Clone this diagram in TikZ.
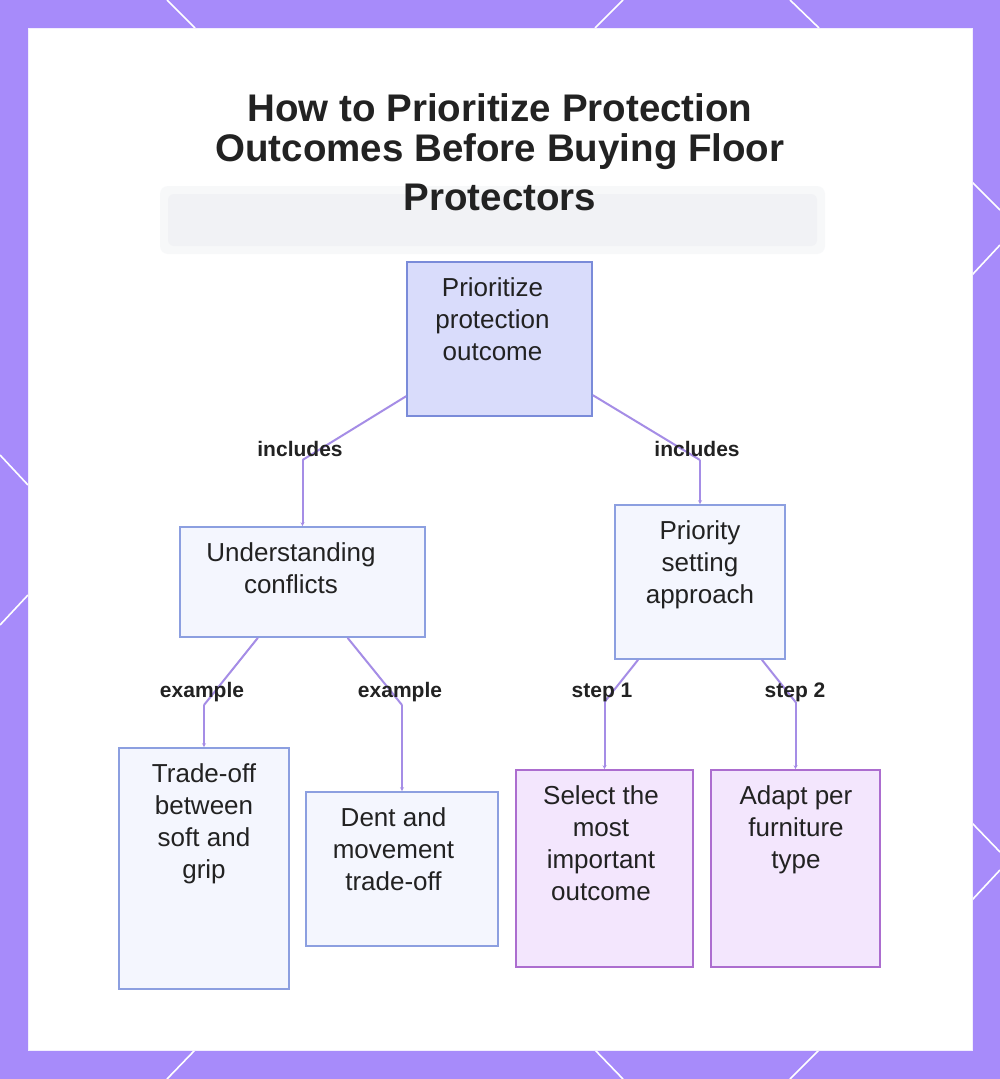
\documentclass[tikz,border=0pt]{standalone}
\usepackage{fontspec}
\setmainfont{Liberation Sans}
\usetikzlibrary{arrows.meta}
\definecolor{framepurple}{HTML}{A78BFA}
\definecolor{rootfill}{HTML}{D9DCFB}
\definecolor{rootdraw}{HTML}{7A8BD9}
\definecolor{bluefill}{HTML}{F4F6FE}
\definecolor{bluedraw}{HTML}{8C9FE0}
\definecolor{purpfill}{HTML}{F3E6FD}
\definecolor{purpdraw}{HTML}{AC6DCF}
\definecolor{connc}{HTML}{A58DE6}
\definecolor{txt}{HTML}{222222}
\definecolor{fadebar}{HTML}{F1F2F5}
\newcommand{\nodetxt}[1]{\parbox[t]{240pt}{\centering\fontsize{26}{32}\selectfont #1}}
\tikzset{
  boxbase/.style={rectangle, inner sep=0pt, line width=1.6pt},
  rootbox/.style={boxbase, fill=rootfill, draw=rootdraw},
  bluebox/.style={boxbase, fill=bluefill, draw=bluedraw},
  purpbox/.style={boxbase, fill=purpfill, draw=purpdraw},
  boxtext/.style={anchor=base, inner sep=0pt, text=txt},
  edgelabel/.style={anchor=center, inner sep=0pt, text=txt, font=\fontsize{21}{24}\selectfont\bfseries},
  titleline/.style={anchor=base, inner sep=0pt, text=txt, font=\fontsize{38.5}{42}\selectfont\bfseries},
  conn/.style={draw=connc, line width=2pt},
  connarrow/.style={conn, -{Stealth[length=4pt,width=4pt]}},
  frameline/.style={draw=white, line width=1.6pt}
}
\begin{document}
\begin{tikzpicture}[x=1pt,y=-1pt]
\useasboundingbox (0,0) rectangle (1000,1079);
% frame
\fill[framepurple] (0,0) rectangle (1000,1079);
\draw[frameline] (167,0) -- (195,28);
\draw[frameline] (623,0) -- (595,28);
\draw[frameline] (790,0) -- (819,28);
\draw[frameline] (167,1079) -- (195,1050);
\draw[frameline] (595,1050) -- (623,1079);
\draw[frameline] (790,1079) -- (819,1050);
\draw[frameline] (0,455) -- (28,485);
\draw[frameline] (28,595) -- (0,625);
\draw[frameline] (972,182) -- (1000,210);
\draw[frameline] (1000,245) -- (972,275);
\draw[frameline] (972,823) -- (1000,852);
\draw[frameline] (1000,870) -- (972,900);
\fill[white] (28,28) rectangle (972,1050);
\draw[draw=white!85!framepurple, line width=0.8pt] (28,28) rectangle (972,1050);
% faint background bar
\fill[fadebar, opacity=0.5, rounded corners=8pt] (160,186) rectangle (825,254);
\fill[fadebar, rounded corners=6pt] (168,194) rectangle (817,246);
% title
\node[titleline] (title1) at (500,121) {How to Prioritize Protection};
\node[titleline] (title2) at (500,161) {Outcomes Before Buying Floor};
\node[titleline] (title3) at (500,210) {Protectors};
% boxes
\node[rootbox, minimum width=185pt, minimum height=154pt] (root) at (499.5,339) {};
\node[bluebox, minimum width=245pt, minimum height=110pt] (uc) at (302.5,582) {};
\node[bluebox, minimum width=170pt, minimum height=154pt] (psa) at (700,582) {};
\node[bluebox, minimum width=170pt, minimum height=241pt] (trade) at (204,868.5) {};
\node[bluebox, minimum width=192pt, minimum height=154pt] (dent) at (402,869) {};
\node[purpbox, minimum width=177pt, minimum height=197pt] (sel) at (604.5,868.5) {};
\node[purpbox, minimum width=169pt, minimum height=197pt] (adapt) at (795.5,868.5) {};
% box texts
\node[boxtext] (roott) at (492.5,296) {\nodetxt{Prioritize\\protection\\outcome}};
\node[boxtext] (uct) at (291,561) {\nodetxt{Understanding\\conflicts}};
\node[boxtext] (psat) at (700,539) {\nodetxt{Priority\\setting\\approach}};
\node[boxtext] (tradet) at (204,782) {\nodetxt{Trade-off\\between\\soft and\\grip}};
\node[boxtext] (dentt) at (393.5,826) {\nodetxt{Dent and\\movement\\trade-off}};
\node[boxtext] (selt) at (601,804) {\nodetxt{Select the\\most\\important\\outcome}};
\node[boxtext] (adaptt) at (796,804) {\nodetxt{Adapt per\\furniture\\type}};
% bend points
\coordinate (bA) at (302.5,460);
\coordinate (bB) at (700,460);
\coordinate (bC) at (204,705);
\coordinate (bD) at (402,705);
\coordinate (bE) at (604.5,702);
\coordinate (bF) at (795.5,702);
% connectors
\draw[conn] (root) -- (bA);
\draw[connarrow] (bA) -- (uc);
\draw[conn] (root) -- (bB);
\draw[connarrow] (bB) -- (psa);
\draw[conn] (uc) -- (bC);
\draw[connarrow] (bC) -- (trade);
\draw[conn] (uc) -- (bD);
\draw[connarrow] (bD) -- (dent);
\draw[conn] (psa) -- (bE);
\draw[connarrow] (bE) -- (sel);
\draw[conn] (psa) -- (bF);
\draw[connarrow] (bF) -- (adapt);
% labels
\node[edgelabel] (l1) at (300,449) {includes};
\node[edgelabel] (l2) at (697,449) {includes};
\node[edgelabel] (l3) at (202,692) {example};
\node[edgelabel] (l4) at (400,692) {example};
\node[edgelabel] (l5) at (602,692) {step 1};
\node[edgelabel] (l6) at (795,692) {step 2};
\end{tikzpicture}
\end{document}
